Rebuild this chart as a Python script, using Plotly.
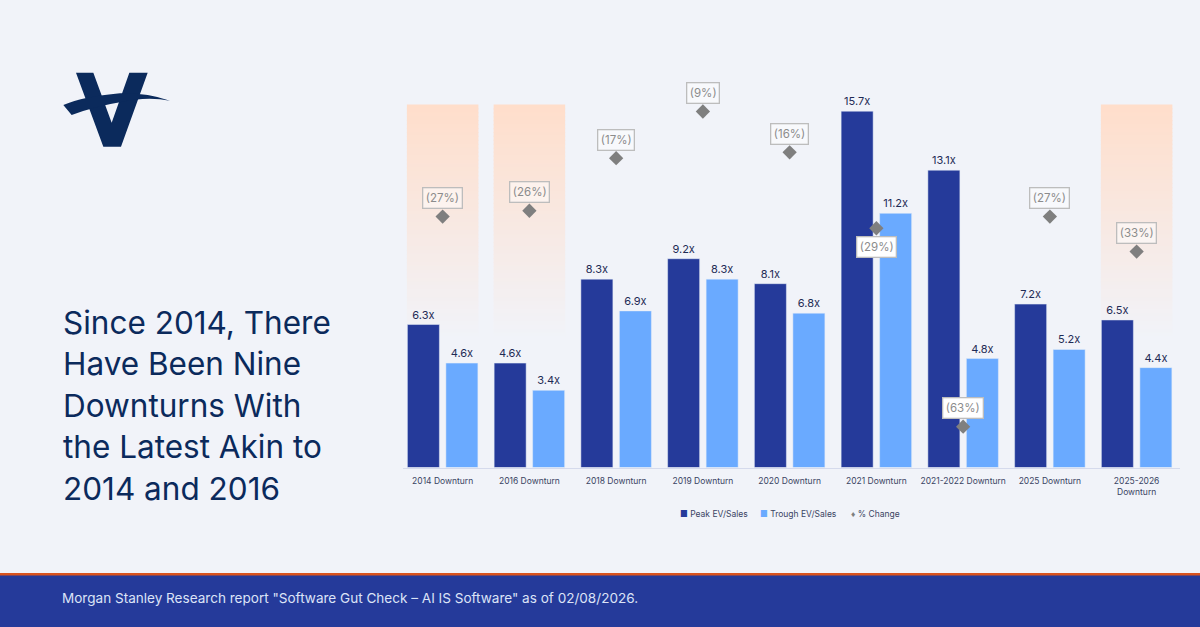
import plotly.graph_objects as go

# values
categories = ['2014 Downturn', '2016 Downturn', '2018 Downturn', '2019 Downturn', '2020 Downturn',
              '2021 Downturn', '2021-2022 Downturn', '2025 Downturn', '2025-2026<br>Downturn']
peak = [6.3, 4.6, 8.3, 9.2, 8.1, 15.7, 13.1, 7.2, 6.5]
trough = [4.6, 3.4, 6.9, 8.3, 6.8, 11.2, 4.8, 5.2, 4.4]
pct_change = [27, 26, 17, 9, 16, 29, 63, 27, 33]
label_below = [5]  # the 2021 box sits under its diamond
solid_box = [5, 6]  # these two boxes sit over bars
shaded = [0, 1, 8]
headline = ['Since 2014, There', 'Have Been Nine', 'Downturns With', 'the Latest Akin to', '2014 and 2016']

BG = '#F1F3F9'
NAVY = '#253A9A'
LIGHT = '#6AAAFF'
GREY = '#7F7F7F'
DARK = '#1F2B55'
LOGO = '#0B2A5C'
FONT = 'Inter'
W, H = 1200, 627


def lerp_colour(t):
    # peach at the top of a band fading into the page colour
    a, b = (255, 222, 203), (241, 243, 249)
    return 'rgb(%d,%d,%d)' % tuple(round(a[i] + (b[i] - a[i]) * t) for i in range(3))


def logo_path(cmds):
    # logo points were read in a 3x crop starting at (40, 50)
    out = []
    for c in cmds:
        if isinstance(c, str):
            out.append(c)
        else:
            out.append('%.5f,%.5f' % ((40 + c[0] / 3) / W, 1 - (50 + c[1] / 3) / H))
    return ' '.join(out)


fig = go.Figure()

fig.add_trace(go.Bar(x=categories, y=peak, name='Peak EV/Sales', marker_color=NAVY,
                     text=[f'{v}x' for v in peak], textposition='outside', cliponaxis=False,
                     textfont=dict(size=11, color=DARK, family=FONT)))
fig.add_trace(go.Bar(x=categories, y=trough, name='Trough EV/Sales', marker_color=LIGHT,
                     text=[f'{v}x' for v in trough], textposition='outside', cliponaxis=False,
                     textfont=dict(size=11, color=DARK, family=FONT)))
fig.add_trace(go.Scatter(x=categories, y=pct_change, yaxis='y2', mode='markers', name='% Change',
                         marker=dict(symbol='diamond', size=11, color=GREY)))

# gradient bands behind the bars, thin strips with a hair of overlap
steps = 60
band_top, band_bottom = 16.0, 5.6
strip = (band_top - band_bottom) / steps
for i in shaded:
    for s in range(steps):
        t = s / (steps - 1)
        y1 = band_top - strip * s
        fig.add_shape(type='rect', xref='x', yref='y', layer='below', line_width=0,
                      x0=i - 0.412, x1=i + 0.412, y0=max(y1 - strip * 1.3, band_bottom), y1=y1,
                      fillcolor=lerp_colour(t))

# % change boxes
for i, p in enumerate(pct_change):
    fig.add_annotation(x=categories[i], y=p, yref='y2', text=f'({p}%)', showarrow=False,
                       yshift=-18.5 if i in label_below else 18.5,
                       bgcolor='white' if i in solid_box else 'rgba(255,255,255,0.5)',
                       bordercolor='#BDBDBD', borderwidth=1.3, borderpad=2.5,
                       font=dict(size=11.5, color='#8C8C8C', family=FONT))

# headline, one annotation per line to hold the line pitch
for n, line in enumerate(headline):
    fig.add_annotation(xref='paper', yref='paper', x=60.5 / W, y=1 - (322 + 41.5 * n) / H, xanchor='left',
                       yanchor='middle', align='left', showarrow=False, text=line,
                       font=dict(size=31.5, color=LOGO, family=FONT))

# legend as text, the native one leaves too wide a gap after the swatch
legend_items = [('■', NAVY, 'Peak EV/Sales', 678), ('■', LIGHT, 'Trough EV/Sales', 758), ('♦', GREY, '% Change', 849)]
for sym, col, name, px in legend_items:
    fig.add_annotation(xref='paper', yref='paper', x=px / W, y=1 - 513.5 / H, xanchor='left', yanchor='middle',
                       showarrow=False, text=f'<span style="color:{col}">{sym}</span> {name}',
                       font=dict(size=8.5, color='#3A4463', family=FONT))

# footer
fig.add_shape(type='rect', xref='paper', yref='paper', x0=0, x1=1, y0=0, y1=1 - 575 / H, line_width=0, fillcolor=NAVY)
fig.add_shape(type='rect', xref='paper', yref='paper', x0=0, x1=1, y0=1 - 575.5 / H, y1=1 - 573 / H,
              line_width=0, fillcolor='#D9531E')
fig.add_annotation(xref='paper', yref='paper', x=60 / W, y=1 - 598 / H, xanchor='left', yanchor='middle',
                   showarrow=False, text='Morgan Stanley Research report "Software Gut Check – AI IS Software" as of 02/08/2026.',
                   font=dict(size=13.55, color='#DCE3F7', family=FONT))

# logo
fig.add_shape(type='path', xref='paper', yref='paper', line_width=0, fillcolor=LOGO,
              path=logo_path(['M', (108, 68), 'L', (160, 68), 'L', (215, 218), 'L', (268, 68), 'L', (323, 68),
                              'L', (243, 290), 'L', (190, 290), 'Z']))
fig.add_shape(type='path', xref='paper', yref='paper', line_width=0, fillcolor=LOGO,
              path=logo_path(['M', (70, 165), 'Q', (130, 140), (240, 130), 'Q', (320, 128), (390, 152),
                              'Q', (320, 138), (240, 157), 'Q', (170, 168), (95, 195), 'Z']))

fig.update_layout(
    width=W, height=H, margin=dict(l=0, r=0, t=0, b=0),
    paper_bgcolor=BG, plot_bgcolor=BG, showlegend=False,
    barmode='group', bargap=0.1124, bargroupgap=0.169,
    font=dict(family=FONT),
    xaxis=dict(domain=[403 / W, 1180 / W], range=[-0.457, 8.5], type='category', showgrid=False,
               showline=True, linecolor='#D5DAEC', linewidth=1, ticks='', ticklen=0, ticklabelstandoff=5,
               tickfont=dict(size=8.5, color='#3A4463', family=FONT)),
    yaxis=dict(domain=[1 - 467.5 / H, 1 - 59 / H], range=[0, 18], visible=False),
    yaxis2=dict(overlaying='y', domain=[1 - 467.5 / H, 1 - 59 / H], range=[70, 0], visible=False),
)

# the page has a default 8px body margin, drop it so the figure fills the window
fig.write_html("out.html", config={'displayModeBar': False}, post_script="document.body.style.margin='0';")
